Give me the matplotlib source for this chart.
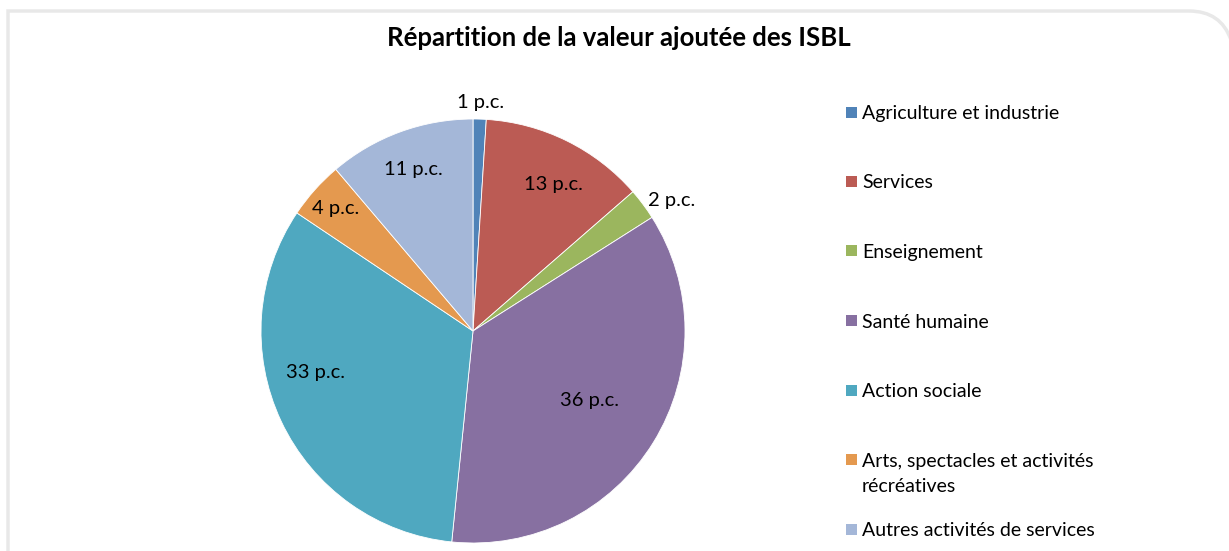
import numpy as np
import matplotlib.pyplot as plt
from matplotlib.patches import Rectangle, PathPatch
from matplotlib.path import Path

# Data
categories = [
    "Agriculture et industrie",
    "Services",
    "Enseignement",
    "Santé humaine",
    "Action sociale",
    "Arts, spectacles et activités\nrécréatives",
    "Autres activités de services",
]
shares = [1.0, 12.6, 2.4, 35.6, 32.8, 4.4, 11.2]
colors = ["#5083B8", "#BB5B54", "#9BB65E", "#8770A1", "#4FA8C0", "#E4994F", "#A4B7D8"]

# label placement (style only): distance as a fraction of the radius,
# and a small angular nudge in degrees (clockwise positive)
label_r = [1.08, 0.79, 1.12, 0.64, 0.77, 0.87, 0.81]
label_nudge = [0, 2.5, 3.5, -1, 10.5, 0, 0]

plt.rcParams['font.family'] = ['Lato', 'DejaVu Sans']

W, H = 1229, 551
fig = plt.figure(figsize=(W / 100, H / 100), dpi=100)


def px(x, y):
    return (x / W, 1 - y / H)


# light frame, rounded at the top right corner
verts = [px(8, H + 10), px(8, 11), px(W - 40, 11), px(W - 8, 11), px(W + 2, 40)]
codes = [Path.MOVETO, Path.LINETO, Path.LINETO, Path.CURVE3, Path.CURVE3]
fig.patches.append(PathPatch(Path(verts, codes), transform=fig.transFigure,
                             fill=False, edgecolor="#E8E8E8", linewidth=2.5,
                             zorder=0))

cx, cy, r = 473, 331, 212
ax = fig.add_axes([(cx - r) / W, (H - cy - r) / H, 2 * r / W, 2 * r / H])

wedges, _ = ax.pie(
    shares,
    colors=colors,
    startangle=90,
    counterclock=False,
    radius=1,
    wedgeprops=dict(edgecolor='white', linewidth=0.6),
)
ax.set_xlim(-1, 1)
ax.set_ylim(-1, 1)
ax.set_aspect('auto')
ax.axis('off')
for w in wedges:
    w.set_clip_on(False)

for w, val, d, nudge in zip(wedges, shares, label_r, label_nudge):
    mid = np.radians((w.theta1 + w.theta2) / 2 - nudge)
    ax.text(d * np.cos(mid), d * np.sin(mid), f"{int(val + 0.5)} p.c.",
            ha='center', va='center', fontsize=14.5, color='black', clip_on=False)

fig.text(619 / W, 1 - 38 / H, "Répartition de la valeur ajoutée des ISBL",
         ha='center', va='center', fontsize=18.5, fontweight='bold')

# legend: one slot per entry, extra lines of a label hang below the marker
y0, step, line_h = 112, 69.5, 26
for i, (lab, col) in enumerate(zip(categories, colors)):
    y = y0 + i * step
    fig.patches.append(Rectangle(px(846, y + 5.5), 11 / W, 11 / H,
                                 transform=fig.transFigure, facecolor=col,
                                 edgecolor='none'))
    for k, line in enumerate(lab.split("\n")):
        fig.text(862 / W, 1 - (y + 7 + k * line_h) / H, line,
                 ha='left', va='baseline', fontsize=14)

fig.savefig("out.png", dpi=100)
